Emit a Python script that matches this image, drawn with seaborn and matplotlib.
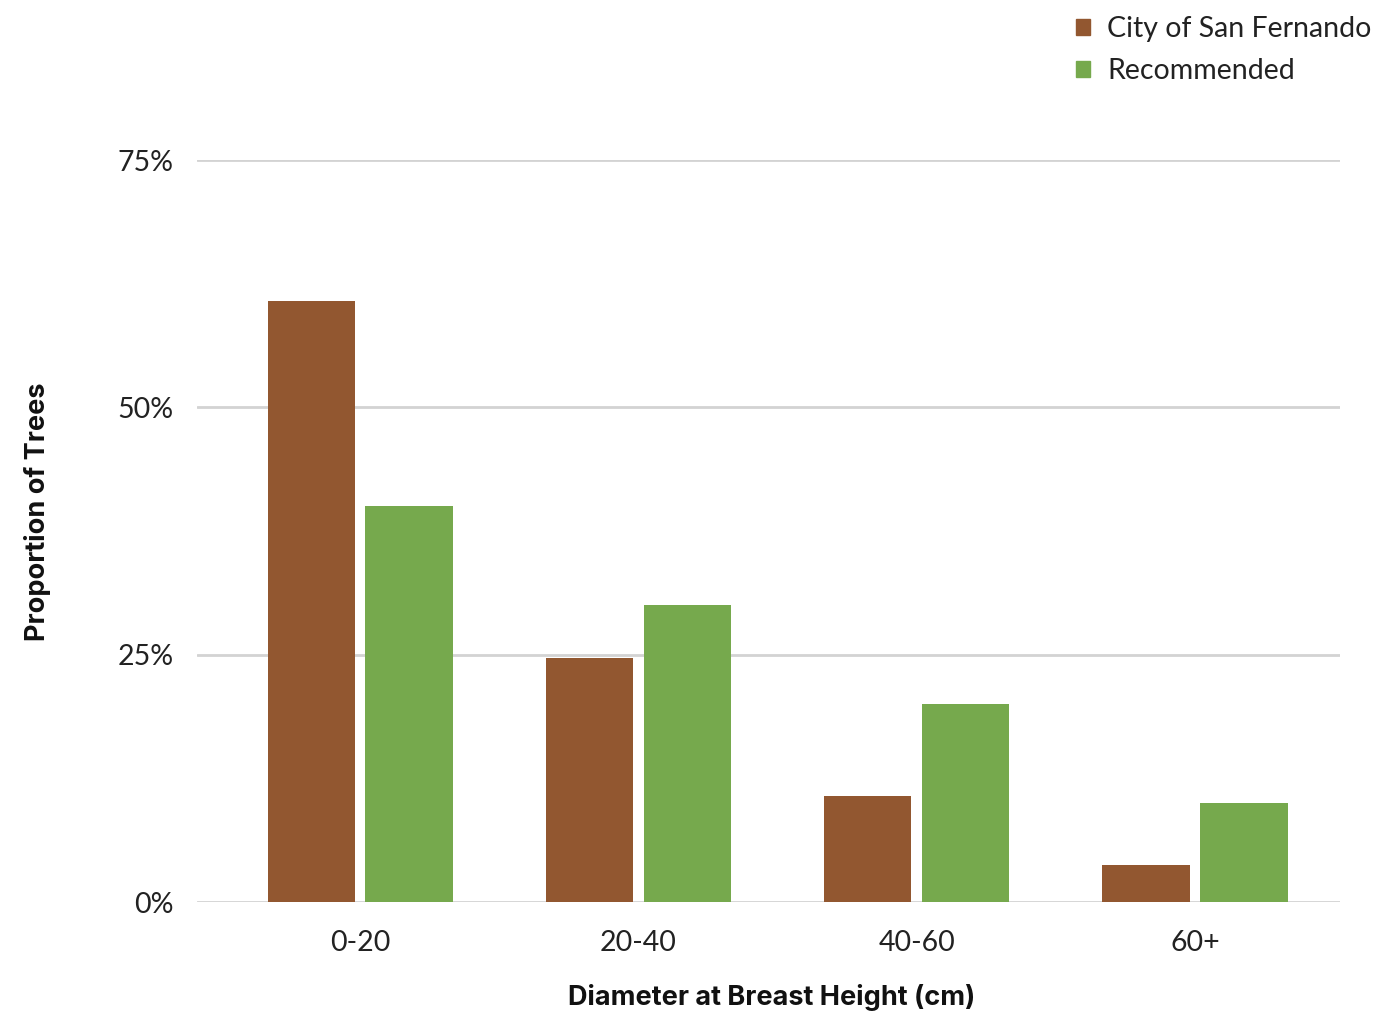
import matplotlib
matplotlib.use("Agg")
import matplotlib.pyplot as plt
import matplotlib.patches as mpatches
import pandas as pd
import seaborn as sns

# Data
categories = ["0-20", "20-40", "40-60", "60+"]
city_of_san_fernando = [60.8, 24.7, 10.7, 3.7]
recommended = [40.0, 30.0, 20.0, 10.0]
series_names = ["City of San Fernando", "Recommended"]
colors = ["#925730", "#76a94d"]
yticks = [0, 25, 50, 75]

df = pd.DataFrame({
    "dbh": categories * 2,
    "value": city_of_san_fernando + recommended,
    "series": [series_names[0]] * len(categories) + [series_names[1]] * len(categories),
})

sns.set_style("white")
plt.rcParams["font.family"] = ["Lato", "DejaVu Sans"]

fig = plt.figure(figsize=(13.75, 10.11), dpi=100)
ax = fig.add_axes([0.1433, 0.1078, 0.831, 0.7339])

sns.barplot(data=df, x="dbh", y="value", hue="series", order=categories,
            hue_order=series_names, palette=colors, width=0.704, gap=0.11,
            saturation=1, edgecolor="none", legend=False, ax=ax, zorder=3)

ax.set_ylim(0, 75)
ax.set_xlim(-0.586, 3.52)
ax.set_yticks(yticks)
ax.set_yticklabels([f"{t}%" for t in yticks])
ax.grid(axis="y", color="#d3d3d3", linewidth=2, zorder=0)
ax.tick_params(axis="both", length=0, labelsize=20.5, colors="#222222")
ax.tick_params(axis="y", pad=17)
ax.tick_params(axis="x", pad=20)
for s in ax.spines.values():
    s.set_visible(False)

ax.set_xlabel("")
ax.set_ylabel("")
label_font = dict(fontsize=19.5, fontweight="bold", color="#111111", family=["Inter", "DejaVu Sans"])
fig.text(0.561, 0.0138, "Diameter at Breast Height (cm)", ha="center", va="center", **label_font)
fig.text(0.027, 0.494, "Proportion of Trees", ha="center", va="center", rotation=90, **label_font)

handles = [mpatches.Patch(color=c, label=n) for c, n in zip(colors, series_names)]
fig.legend(handles=handles, loc="upper right", bbox_to_anchor=(1.008, 0.998),
           frameon=False, fontsize=20.5, handlelength=0.5, handleheight=0.5,
           handletextpad=0.6, labelspacing=0.55, borderaxespad=0.1,
           labelcolor="#222222")

fig.savefig("out.png", dpi=100)
